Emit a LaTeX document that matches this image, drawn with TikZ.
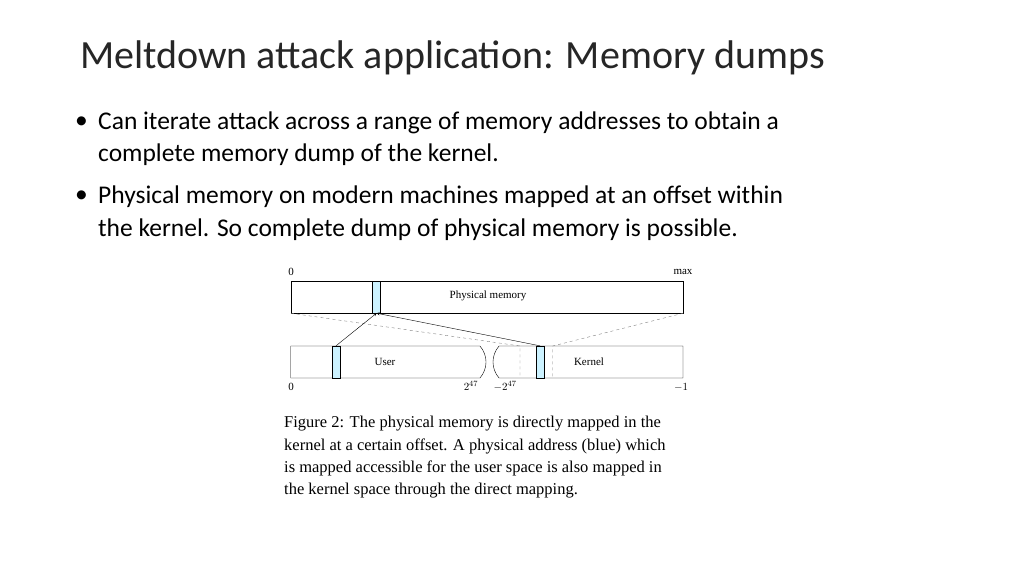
\documentclass[tikz,border=0pt]{standalone}
\usepackage{fontspec}
\setmainfont{Liberation Serif}
\newfontfamily\calfont{Carlito}
\begin{document}
\begin{tikzpicture}[x=1pt,y=-1pt,
  strip/.style={draw,fill=blue!25!cyan!20,inner sep=0,minimum width=8pt,minimum height=32pt},
  lab/.style={inner sep=0,font=\fontsize{11}{12}\selectfont},
  captxt/.style={inner sep=0,anchor=west,font=\fontsize{16.5}{18}\selectfont},
  bul/.style={inner sep=0,anchor=west,font=\calfont\fontsize{25.5}{28}\selectfont}]
\useasboundingbox (0,0) rectangle (1024,576);
\node[inner sep=0,anchor=west,font=\calfont\fontsize{40}{44}\selectfont\color{black!85}] (title) at (80,58) {Meltdown attack application: Memory dumps};
\node[bul] (b1) at (75,123) {•};
\node[bul] (t1) at (98,123) {Can iterate attack across a range of memory addresses to obtain a};
\node[bul] (t2) at (98,155) {complete memory dump of the kernel.};
\node[bul] (b2) at (75,197) {•};
\node[bul] (t3) at (98,197) {Physical memory on modern machines mapped at an offset within};
\node[bul] (t4) at (98,230) {the kernel. So complete dump of physical memory is possible.};
% physical memory
\node[draw,minimum width=392pt,minimum height=32pt,inner sep=0] (phys) at (487,297) {};
\node[strip] (ps) at (376.5,297) {};
\node[lab] (pl) at (488,296) {Physical memory};
% user and kernel
\draw (290.7,346) -- (480,346) to[bend left=40] (480,378) -- (290.7,378) -- cycle;
\draw (683,346) -- (499,346) to[bend right=40] (499,378) -- (683,378) -- cycle;
\coordinate (d1) at (520,346); \coordinate (d1b) at (520,378);
\coordinate (d2) at (552.7,346); \coordinate (d2b) at (552.7,378);
\draw[dashed,gray] (phys.south west) -- (d1) -- (d1b);
\draw[dashed,gray] (phys.south east) -- (d2) -- (d2b);
\node[strip] (us) at (336,362) {};
\node[strip] (ks) at (540,362) {};
\draw[-stealth] (us.north) -- (ps.south);
\draw[-stealth] (ks.north) -- (ps.south);
\node[lab] (ul) at (385,362) {User};
\node[lab] (kl) at (589,362) {Kernel};
\node[lab] (z1) at (291,272) {0};
\node[lab] (mx) at (683,272) {max};
\node[lab] (z2) at (291,387) {0};
\node[lab] (p47) at (471,386) {$2^{47}$};
\node[lab] (m47) at (505,386) {$-2^{47}$};
\node[lab] (m1) at (681,387) {$-1$};
\node[captxt] (c1) at (284,424) {Figure 2: The physical memory is directly mapped in the};
\node[captxt] (c2) at (284,446) {kernel at a certain offset. A physical address (blue) which};
\node[captxt] (c3) at (284,468) {is mapped accessible for the user space is also mapped in};
\node[captxt] (c4) at (284,491) {the kernel space through the direct mapping.};
\end{tikzpicture}
\end{document}
